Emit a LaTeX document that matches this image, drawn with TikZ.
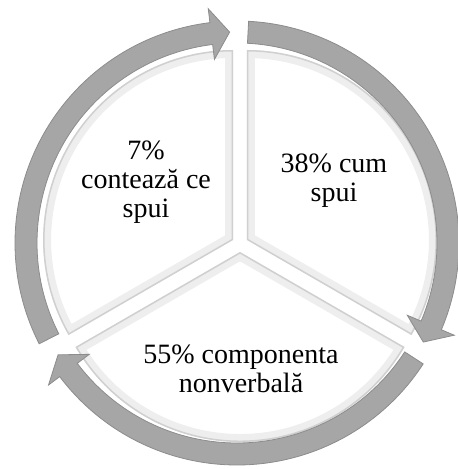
\documentclass[tikz,border=0pt]{standalone}
\usepackage{fontspec}
\setmainfont{Liberation Serif}
\definecolor{ringgray}{RGB}{166,166,166}
\definecolor{ringedge}{RGB}{140,140,140}
\definecolor{bevelband}{RGB}{238,238,238}
\definecolor{bevelline}{RGB}{208,208,208}
\begin{document}
\begin{tikzpicture}[x=1pt, y=1pt,
    ringarrow/.style={fill=ringgray, draw=ringedge, line width=0.8pt, line join=miter},
    txt/.style={align=center, font=\fontsize{28}{29}\selectfont, text=black},
]
\useasboundingbox (0,0) rectangle (458,469);

\foreach \a [evaluate=\a as \b using \a-120, evaluate=\a as \m using \a-60] in {90,-30,210} {
  \begin{scope}[shift={(240,225)}, shift={(\m:8)}]
    \def\wedgepath{(0,0) -- (\b:190) arc[start angle=\b, end angle=\a, radius=190] -- cycle}
    \path[fill=white] \wedgepath;
    \begin{scope}
      \clip \wedgepath;
      \draw[bevelband, line width=16pt, line join=miter] \wedgepath;
      \draw[bevelline, line width=3pt, line join=miter] \wedgepath;
    \end{scope}
  \end{scope}
}

\foreach \s [evaluate=\s as \t using \s-115, evaluate=\s as \h using \s-110] in {87,-33,207} {
  \draw[ringarrow, shift={(237,226)}] (\s:222) arc[start angle=\s, end angle=\h, radius=222]
    -- (\h:236) -- (\t:211) -- (\h:185) -- (\h:200)
    arc[start angle=\h, end angle=\s, radius=200] -- cycle;
}

\node[txt] (spune) at (146,287) {7\%\\contează ce\\spui};
\node[txt] (cum) at (334,288) {38\% cum\\spui};
\node[txt] (nonverbal) at (241,100) {55\% componenta\\nonverbală};
\end{tikzpicture}
\end{document}
